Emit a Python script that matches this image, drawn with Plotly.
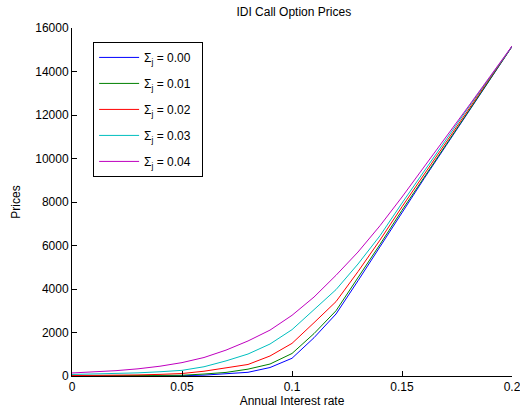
import plotly.graph_objects as go

rates = [0.00, 0.01, 0.02, 0.03, 0.04, 0.05, 0.06, 0.07, 0.08, 0.09, 0.10,
         0.11, 0.12, 0.13, 0.14, 0.15, 0.16, 0.17, 0.18, 0.19, 0.20]

sigma_labels = ["0.00", "0.01", "0.02", "0.03", "0.04"]

price_s000 = [0, 0, 1, 2, 5, 12, 40, 90, 170, 390, 815,
              1760, 2850, 4380, 5950, 7550, 9070, 10590, 12110, 13630, 15150]
price_s001 = [5, 6, 8, 12, 20, 35, 90, 165, 315, 550, 1035,
              1950, 3000, 4500, 6050, 7620, 9130, 10640, 12150, 13650, 15150]
price_s002 = [20, 25, 35, 50, 75, 115, 220, 360, 530, 920, 1500,
              2450, 3420, 4800, 6250, 7780, 9270, 10760, 12230, 13700, 15150]
price_s003 = [70, 85, 110, 145, 195, 260, 425, 695, 1010, 1470, 2130,
              3040, 3970, 5150, 6450, 7950, 9420, 10880, 12320, 13740, 15150]
price_s004 = [140, 185, 245, 330, 450, 615, 850, 1190, 1610, 2110, 2790,
              3630, 4630, 5700, 6910, 8230, 9600, 10980, 12370, 13770, 15170]

x_ticks = [0, 0.05, 0.1, 0.15, 0.2]
x_tick_text = ["0", "0.05", "0.1", "0.15", "0.2"]
y_ticks = [0, 2000, 4000, 6000, 8000, 10000, 12000, 14000, 16000]
y_tick_text = ["0", "2000", "4000", "6000", "8000", "10000", "12000", "14000", "16000"]

series = [price_s000, price_s001, price_s002, price_s003, price_s004]
colors = ["rgb(0,0,255)", "rgb(0,128,0)", "rgb(255,0,0)",
          "rgb(0,191,191)", "rgb(191,0,191)"]

FONT = "Liberation Sans, Arial, Helvetica, sans-serif"

fig = go.Figure()
for i, (vals, lab, col) in enumerate(zip(series, sigma_labels, colors)):
    fig.add_trace(go.Scatter(
        x=rates, y=vals, mode="lines",
        line=dict(color=col, width=1),
        name="\u03a3<sub>j</sub> = " + lab + "\u00a0\u00a0",
        legendgroup="g%d" % i,
    ))

fig.update_layout(
    width=520, height=414,
    margin=dict(l=72, r=8, t=28, b=38, autoexpand=False),
    paper_bgcolor="white", plot_bgcolor="white",
    font=dict(family=FONT, size=12, color="black"),
    title=dict(text="IDI Call Option Prices", x=0.565, xanchor="center",
               y=0.972, yanchor="middle", font=dict(size=12)),
    showlegend=True,
    legend=dict(x=0.048, y=0.96, xanchor="left", yanchor="top",
                bordercolor="black", borderwidth=1, bgcolor="white",
                font=dict(size=12), tracegroupgap=7, itemwidth=40),
    xaxis=dict(range=[0, 0.2], tickvals=x_ticks, ticktext=x_tick_text,
               ticks="inside", ticklen=5, tickcolor="black",
               ticklabeloverflow="allow", automargin=False,
               showline=True, linecolor="black", linewidth=1,
               showgrid=False, zeroline=False,
               title=dict(text="Annual Interest rate", standoff=2, font=dict(size=12))),
    yaxis=dict(range=[0, 16000], tickvals=y_ticks, ticktext=y_tick_text,
               ticks="inside", ticklen=5, tickcolor="black",
               automargin=False,
               showline=True, linecolor="black", linewidth=1,
               showgrid=False, zeroline=False,
               title=dict(text="Prices", standoff=12, font=dict(size=12))),
)

fig.write_html("out.html")
